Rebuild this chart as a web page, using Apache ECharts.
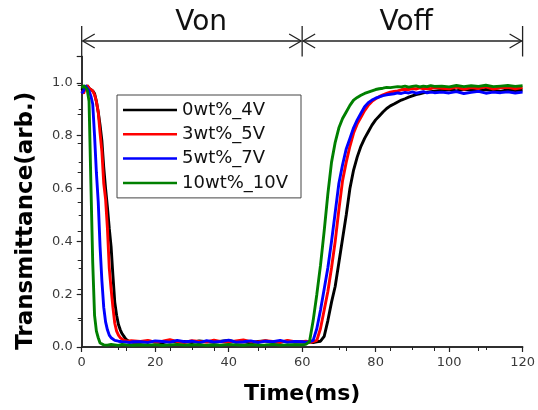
<!DOCTYPE html>
<html>
<head>
<meta charset="utf-8">
<title>Transmittance response</title>
<script src="https://cdn.jsdelivr.net/npm/echarts@6/dist/echarts.min.js"></script>
<style>
  html, body { margin: 0; padding: 0; background: #fff; }
  #chart { width: 538px; height: 410px; }
</style>
</head>
<body>
<div id="chart"></div>
<script>
// Sample times (ms)
const time = [
  0, 0.5, 1, 1.5, 2, 2.5, 3, 3.5, 4, 4.5, 5, 5.5, 6, 6.5, 7, 7.5, 8, 8.5, 9, 9.5, 10, 10.5, 11, 11.5, 12, 12.5, 13, 13.5, 14,
  16, 18, 20, 22, 24, 26, 28, 30, 32, 34, 36, 38, 40, 42, 44, 46, 48, 50, 52, 54, 56, 58,
  60, 61, 62, 63, 64, 65, 66, 67, 68, 69, 70, 71, 72, 73, 74, 75, 76, 77, 78, 79, 80, 81, 82, 83, 84, 85, 86, 87, 88, 89, 90, 91, 92, 93, 94, 95, 96,
  98, 100, 102, 104, 106, 108, 110, 112, 114, 116, 118, 120
];

const seriesNames = ['0wt%_4V', '3wt%_5V', '5wt%_7V', '10wt%_10V'];
const seriesColors = ['#000000', '#ff0000', '#0000ff', '#008000'];

// Transmittance (arb.) for each sample
const t0wt4V = [
  0.98, 0.97, 0.98, 0.99, 0.98, 0.98, 0.97, 0.96, 0.93, 0.89, 0.84, 0.78, 0.68, 0.60, 0.53, 0.45, 0.38, 0.27, 0.17, 0.12, 0.085, 0.065, 0.05, 0.04, 0.03, 0.025, 0.02, 0.022, 0.018,
  0.018, 0.022, 0.02, 0.016, 0.024, 0.019, 0.021, 0.017, 0.023, 0.02, 0.018, 0.022, 0.025, 0.019, 0.02, 0.016, 0.021, 0.023, 0.018, 0.02, 0.022, 0.019,
  0.02, 0.018, 0.02, 0.017, 0.02, 0.022, 0.04, 0.10, 0.17, 0.23, 0.32, 0.41, 0.50, 0.60, 0.67, 0.72, 0.76, 0.79, 0.815, 0.84, 0.86, 0.875, 0.89, 0.903, 0.913, 0.92, 0.928, 0.935, 0.94, 0.946, 0.951, 0.956, 0.959, 0.962, 0.965, 0.967, 0.969,
  0.972, 0.975, 0.97, 0.976, 0.973, 0.97, 0.975, 0.972, 0.968, 0.974, 0.971, 0.973
];
const t3wt5V = [
  0.97, 0.96, 0.98, 0.99, 0.98, 0.975, 0.97, 0.955, 0.93, 0.89, 0.81, 0.74, 0.62, 0.56, 0.45, 0.30, 0.22, 0.15, 0.09, 0.06, 0.045, 0.035, 0.03, 0.025, 0.02, 0.022, 0.018, 0.024, 0.02,
  0.021, 0.025, 0.018, 0.022, 0.028, 0.02, 0.017, 0.024, 0.021, 0.019, 0.026, 0.02, 0.018, 0.023, 0.027, 0.02, 0.019, 0.024, 0.021, 0.017, 0.025, 0.02,
  0.02, 0.022, 0.018, 0.02, 0.025, 0.07, 0.14, 0.21, 0.30, 0.40, 0.52, 0.63, 0.70, 0.76, 0.81, 0.845, 0.87, 0.895, 0.915, 0.93, 0.94, 0.948, 0.955, 0.96, 0.965, 0.968, 0.97, 0.974, 0.976, 0.975, 0.979, 0.977, 0.981, 0.978, 0.98, 0.978, 0.982,
  0.98, 0.978, 0.984, 0.976, 0.982, 0.979, 0.985, 0.977, 0.981, 0.983, 0.978, 0.982
];
const t5wt7V = [
  0.96, 0.97, 0.99, 0.985, 0.97, 0.95, 0.92, 0.80, 0.66, 0.55, 0.38, 0.25, 0.15, 0.095, 0.065, 0.045, 0.035, 0.03, 0.025, 0.02, 0.022, 0.018, 0.02, 0.024, 0.019, 0.021, 0.017, 0.022, 0.02,
  0.02, 0.017, 0.023, 0.021, 0.018, 0.025, 0.02, 0.022, 0.016, 0.024, 0.019, 0.021, 0.026, 0.018, 0.02, 0.023, 0.017, 0.022, 0.02, 0.025, 0.018, 0.021,
  0.02, 0.018, 0.02, 0.025, 0.07, 0.14, 0.22, 0.30, 0.40, 0.51, 0.62, 0.69, 0.75, 0.79, 0.83, 0.86, 0.885, 0.91, 0.925, 0.935, 0.942, 0.947, 0.952, 0.955, 0.957, 0.959, 0.962, 0.96, 0.964, 0.962, 0.966, 0.961, 0.964, 0.967, 0.962, 0.965, 0.963,
  0.965, 0.962, 0.967, 0.96, 0.964, 0.968, 0.961, 0.965, 0.963, 0.966, 0.962, 0.965
];
const t10wt10V = [
  0.98, 0.99, 0.985, 0.975, 0.93, 0.62, 0.32, 0.12, 0.06, 0.035, 0.015, 0.01, 0.008, 0.009, 0.007, 0.008, 0.01, 0.007, 0.008, 0.009, 0.006, 0.008, 0.01, 0.007, 0.008, 0.009, 0.007, 0.008, 0.006,
  0.008, 0.007, 0.009, 0.006, 0.008, 0.01, 0.007, 0.008, 0.009, 0.006, 0.008, 0.007, 0.01, 0.008, 0.006, 0.009, 0.007, 0.008, 0.01, 0.007, 0.008, 0.009,
  0.008, 0.01, 0.02, 0.10, 0.20, 0.31, 0.44, 0.58, 0.70, 0.775, 0.83, 0.865, 0.89, 0.915, 0.935, 0.945, 0.953, 0.96, 0.965, 0.97, 0.975, 0.978, 0.98, 0.983, 0.982, 0.984, 0.986, 0.985, 0.988, 0.984, 0.987, 0.989, 0.985, 0.988, 0.986, 0.99, 0.987,
  0.988, 0.985, 0.99, 0.986, 0.989, 0.987, 0.991, 0.986, 0.988, 0.99, 0.987, 0.989
];
const seriesValues = [t0wt4V, t3wt5V, t5wt7V, t10wt10V];

// Drive phases shown above the plot
const phaseLabels = ['Von', 'Voff'];
const phaseBounds = [0, 60, 120];
const phaseLabelAt = [32.5, 88.3];

const xTickLabels = ['0', '20', '40', '60', '80', '100', '120'];
const yTickLabels = ['0.0', '0.2', '0.4', '0.6', '0.8', '1.0'];

const axisColor = '#222';
const labelColor = '#3a3a3a';
const gridTop = 56.5;

const chart = echarts.init(document.getElementById('chart'), null, { renderer: 'canvas' });

const series = seriesNames.map((name, k) => ({
  name: name,
  type: 'line',
  xAxisIndex: 0,
  yAxisIndex: 0,
  symbol: 'none',
  clip: true,
  lineStyle: { color: seriesColors[k], width: 2.9 },
  itemStyle: { color: seriesColors[k] },
  data: time.map((t, i) => [t, seriesValues[k][i]])
}));

chart.setOption({
  animation: false,
  backgroundColor: '#fff',
  grid: { left: 81.7, right: 10.3, top: gridTop, bottom: 59.5 },
  legend: {
    orient: 'vertical',
    left: 117,
    top: 95,
    data: seriesNames,
    icon: 'rect',
    itemWidth: 54,
    itemHeight: 2.5,
    itemGap: 6.3,
    padding: [6, 13, 6, 6],
    borderColor: '#444',
    borderWidth: 1,
    textStyle: { fontFamily: 'DejaVu Sans', fontSize: 18, color: '#111' }
  },
  xAxis: [
    {
      type: 'value', position: 'bottom', min: 0, max: 120, interval: 20,
      name: 'Time(ms)', nameLocation: 'middle', nameGap: 36,
      nameTextStyle: { fontFamily: 'DejaVu Sans', fontWeight: 'bold', fontSize: 22, color: '#000' },
      axisLine: { show: true, lineStyle: { color: axisColor, width: 1.5 } },
      axisTick: { show: true, inside: false, length: 5, lineStyle: { color: axisColor, width: 1.2 } },
      minorTick: { show: true, splitNumber: 2, length: 3, lineStyle: { color: axisColor, width: 1 } },
      axisLabel: {
        margin: 9, color: labelColor, fontFamily: 'DejaVu Sans', fontSize: 13,
        formatter: (v) => { const i = Math.round(v / 20); return xTickLabels[i] !== undefined ? xTickLabels[i] : ''; }
      },
      splitLine: { show: false }
    },
    {
      type: 'value', position: 'top', min: 0, max: 120, interval: 12,
      axisLine: { show: true, lineStyle: { color: axisColor, width: 1.5 } },
      axisTick: { show: true, inside: true, length: 4, lineStyle: { color: axisColor, width: 1 } },
      axisLabel: { show: false },
      splitLine: { show: false }
    }
  ],
  yAxis: [
    {
      type: 'value', position: 'left', min: 0, max: 1.1, interval: 0.2,
      name: 'Transmittance(arb.)', nameLocation: 'middle', nameGap: 44,
      nameTextStyle: { fontFamily: 'DejaVu Sans', fontWeight: 'bold', fontSize: 23, color: '#000', padding: [0, 38, 0, 0] },
      axisLine: { show: true, lineStyle: { color: axisColor, width: 1.5 } },
      axisTick: { show: true, inside: false, length: 5, lineStyle: { color: axisColor, width: 1.2 } },
      minorTick: { show: true, splitNumber: 2, length: 3, lineStyle: { color: axisColor, width: 1 } },
      axisLabel: {
        margin: 9, color: labelColor, fontFamily: 'DejaVu Sans', fontSize: 13, showMaxLabel: false,
        formatter: (v) => { const i = Math.round(v / 0.2); return (Math.abs(v - i * 0.2) < 1e-6 && yTickLabels[i] !== undefined) ? yTickLabels[i] : ''; }
      },
      splitLine: { show: false }
    },
    {
      type: 'value', position: 'right', min: 0, max: 1.1, interval: 0.11,
      axisLine: { show: true, lineStyle: { color: axisColor, width: 1.5 } },
      axisTick: { show: true, inside: true, length: 4, lineStyle: { color: axisColor, width: 1 } },
      axisLabel: { show: false },
      splitLine: { show: false }
    }
  ],
  series: series
});

// Phase brackets with arrows, positioned from the time axis
function px(t) { return chart.convertToPixel({ xAxisIndex: 0 }, t); }
const arrowY = 41, barTop = 26, headLen = 12, headHalf = 7;
const stroke = { stroke: axisColor, lineWidth: 1.3, fill: null };
const graphics = [];
phaseBounds.forEach((b) => {
  const x = px(b);
  graphics.push({ type: 'line', shape: { x1: x, y1: barTop, x2: x, y2: gridTop }, style: stroke, z: 10 });
});
phaseLabels.forEach((label, i) => {
  const xa = px(phaseBounds[i]) + 1;
  const xb = px(phaseBounds[i + 1]) - 1;
  graphics.push({ type: 'line', shape: { x1: xa, y1: arrowY, x2: xb, y2: arrowY }, style: stroke, z: 10 });
  graphics.push({ type: 'polyline', shape: { points: [[xa + headLen, arrowY - headHalf], [xa, arrowY], [xa + headLen, arrowY + headHalf]] }, style: stroke, z: 10 });
  graphics.push({ type: 'polyline', shape: { points: [[xb - headLen, arrowY - headHalf], [xb, arrowY], [xb - headLen, arrowY + headHalf]] }, style: stroke, z: 10 });
  graphics.push({
    type: 'text', x: px(phaseLabelAt[i]), y: 23, z: 10,
    style: { text: label, fill: '#111', font: '28px "DejaVu Sans"', textAlign: 'center', textVerticalAlign: 'middle' }
  });
});
chart.setOption({ graphic: graphics });
</script>
</body>
</html>
